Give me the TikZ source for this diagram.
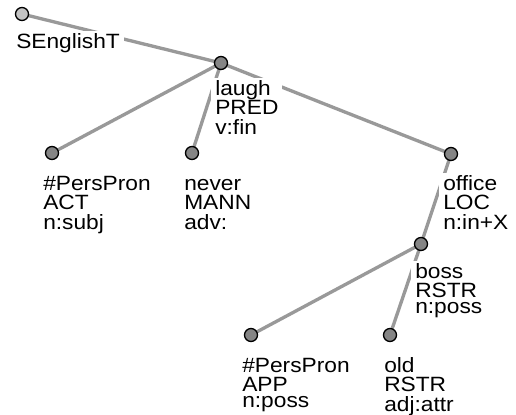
\documentclass[tikz,border=0pt]{standalone}
\usepackage{fontspec}
\setmainfont{Liberation Sans}[FakeStretch=1.1]
\pgfdeclarelayer{bg}
\pgfsetlayers{bg,main}
\definecolor{edgegray}{HTML}{999999}
\definecolor{dotgray}{HTML}{858585}
\definecolor{rootgray}{HTML}{C4C4C4}
\newcommand{\tlabel}[1]{\fontsize{15.5}{12.4}\selectfont\begin{tabular}[t]{@{}l@{}}#1\end{tabular}}
\tikzset{
  dot/.style={circle, draw=black, line width=1pt, fill=dotgray, minimum size=9.75pt, inner sep=0pt},
  rootdot/.style={dot, fill=rootgray},
  lbl/.style={anchor=base west, fill=white, inner xsep=3pt, inner ysep=1.5pt},
  edge/.style={draw=edgegray, line width=2.5pt}
}
\begin{document}
\begin{tikzpicture}[x=0.75pt,y=-0.75pt]
\useasboundingbox (0,0) rectangle (516,414);
% nodes (circles)
\node[rootdot] (root) at (22,14) {};
\node[dot] (laugh) at (221,63) {};
\node[dot] (ppact) at (52,153) {};
\node[dot] (never) at (192,153) {};
\node[dot] (office) at (451,154) {};
\node[dot] (boss) at (421,244) {};
\node[dot] (ppapp) at (251,335) {};
\node[dot] (old) at (390,335) {};
% labels
\node[lbl] (lroot) at (12,48) {\tlabel{SEnglishT}};
\node[lbl] (llaugh) at (211,95) {\tlabel{laugh\\PRED\\v:fin}};
\node[lbl] (lppact) at (39,190) {\tlabel{\#PersPron\\ACT\\n:subj}};
\node[lbl] (lnever) at (180,190) {\tlabel{never\\MANN\\adv:}};
\node[lbl] (loffice) at (439,190) {\tlabel{office\\LOC\\n:in+X}};
\node[lbl] (lboss) at (411,278) {\tlabel{boss\\RSTR\\n:poss}};
\node[lbl] (lppapp) at (238,372) {\tlabel{\#PersPron\\APP\\n:poss}};
\node[lbl] (lold) at (380,372) {\tlabel{old\\RSTR\\adj:attr}};
% edges
\begin{pgfonlayer}{bg}
\draw[edge] (root.center) -- (laugh.center);
\draw[edge] (laugh.center) -- (ppact.center);
\draw[edge] (laugh.center) -- (never.center);
\draw[edge] (laugh.center) -- (office.center);
\draw[edge] (office.center) -- (boss.center);
\draw[edge] (boss.center) -- (ppapp.center);
\draw[edge] (boss.center) -- (old.center);
\end{pgfonlayer}
\end{tikzpicture}
\end{document}
